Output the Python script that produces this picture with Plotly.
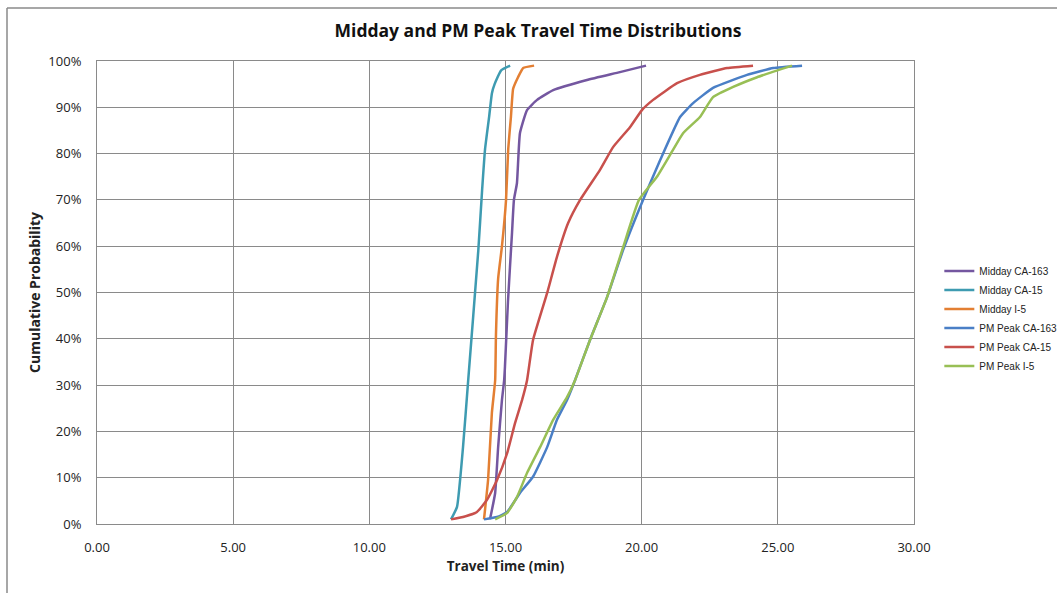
import plotly.graph_objects as go

# Cumulative probability (fraction) and travel time (min)
midday_ca163_t = [14.43, 14.62, 14.73, 14.87, 14.95, 14.98, 15.09, 15.24, 15.31, 15.42, 15.53, 15.79, 16.16, 16.75, 17.99, 19.2, 20.16]
midday_ca163_p = [0.01, 0.067, 0.166, 0.268, 0.31, 0.34, 0.48, 0.63, 0.70, 0.736, 0.844, 0.894, 0.916, 0.937, 0.959, 0.976, 0.99]

midday_ca15_t = [13.0, 13.22, 13.44, 13.63, 14.0, 14.14, 14.25, 14.4, 14.5, 14.6, 14.84, 15.17]
midday_ca15_p = [0.01, 0.037, 0.166, 0.31, 0.59, 0.72, 0.81, 0.88, 0.93, 0.95, 0.98, 0.99]

midday_i5_t = [14.21, 14.36, 14.5, 14.62, 14.65, 14.73, 14.87, 15.02, 15.1, 15.2, 15.28, 15.46, 15.65, 16.05]
midday_i5_p = [0.01, 0.095, 0.24, 0.31, 0.41, 0.53, 0.60, 0.70, 0.81, 0.88, 0.94, 0.965, 0.985, 0.99]

pm_ca163_t = [14.21, 14.69, 15.06, 15.53, 16.01, 16.53, 16.89, 17.26, 17.55, 18.1, 18.73, 19.32, 20.05, 20.68, 21.41, 21.89, 22.62, 23.87, 24.83, 25.89]
pm_ca163_p = [0.01, 0.015, 0.026, 0.067, 0.102, 0.166, 0.225, 0.268, 0.31, 0.397, 0.49, 0.592, 0.70, 0.786, 0.879, 0.909, 0.942, 0.97, 0.985, 0.99]

pm_ca15_t = [13.0, 13.44, 13.95, 14.32, 14.69, 15.06, 15.35, 15.61, 15.79, 16.01, 16.53, 16.89, 17.3, 17.74, 18.47, 18.95, 19.57, 20.01, 20.42, 21.3, 22.14, 23.14, 24.09]
pm_ca15_p = [0.01, 0.015, 0.026, 0.052, 0.095, 0.153, 0.218, 0.268, 0.31, 0.397, 0.499, 0.577, 0.65, 0.70, 0.765, 0.814, 0.857, 0.894, 0.916, 0.952, 0.97, 0.985, 0.99]

pm_i5_t = [14.62, 15.06, 15.42, 15.79, 16.27, 16.75, 17.26, 17.55, 18.1, 18.73, 19.32, 19.9, 20.56, 21.15, 21.52, 22.14, 22.62, 23.36, 24.24, 25.52]
pm_i5_p = [0.01, 0.024, 0.058, 0.11, 0.166, 0.225, 0.274, 0.31, 0.397, 0.49, 0.598, 0.70, 0.75, 0.808, 0.844, 0.879, 0.922, 0.944, 0.965, 0.99]

series = [
    ("Midday CA-163", midday_ca163_t, midday_ca163_p, "#7457A0"),
    ("Midday CA-15", midday_ca15_t, midday_ca15_p, "#3E9BB1"),
    ("Midday I-5", midday_i5_t, midday_i5_p, "#E37F33"),
    ("PM Peak CA-163", pm_ca163_t, pm_ca163_p, "#4A7FC6"),
    ("PM Peak CA-15", pm_ca15_t, pm_ca15_p, "#C8504C"),
    ("PM Peak I-5", pm_i5_t, pm_i5_p, "#98BF55"),
]

fig = go.Figure()
for name, t, p, c in series:
    fig.add_trace(go.Scatter(x=t, y=p, mode="lines", name=name,
                             line=dict(color=c, width=2.5, shape="spline", smoothing=0.4)))

font_family = "Open Sans, Liberation Sans, sans-serif"
fig.update_layout(
    width=1057, height=593,
    margin=dict(l=97, r=143, t=61, b=69, autoexpand=False),
    paper_bgcolor="white", plot_bgcolor="white",
    font=dict(family=font_family, size=13, color="#222"),
    title=dict(text="<b>Midday and PM Peak Travel Time Distributions</b>",
               xref="container", x=0.509, xanchor="center",
               yref="container", y=1 - 31 / 593, yanchor="middle",
               font=dict(size=17.5, color="#111")),
    xaxis=dict(range=[0, 30], dtick=5, tickformat=".2f", showgrid=True, automargin=False,
               gridcolor="#8a8a8a", gridwidth=1, showline=True, linecolor="#8a8a8a",
               mirror=True, zeroline=False, ticks="", ticklabelstandoff=11,
               title=dict(text="<b>Travel Time (min)</b>", font=dict(size=13.5), standoff=6)),
    yaxis=dict(range=[0, 1], dtick=0.1, tickformat=".0%", showgrid=True, automargin=False,
               gridcolor="#8a8a8a", gridwidth=1, showline=True, linecolor="#8a8a8a",
               mirror=True, zeroline=False, ticks="", ticklabelstandoff=12,
               title=dict(text="<b>Cumulative Probability</b>", font=dict(size=14), standoff=4)),
    legend=dict(x=1.031, xanchor="left", y=0.578, yanchor="top",
                font=dict(family="Liberation Sans, Arial, sans-serif", size=10, color="#222"),
                tracegroupgap=0, bgcolor="rgba(0,0,0,0)"),
    showlegend=True,
)

# outer chart border (top and left)
fig.add_shape(type="line", xref="paper", yref="paper",
              x0=(7 - 97) / 817, x1=(1057 - 97) / 817, y0=(524 - 8) / 463, y1=(524 - 8) / 463,
              line=dict(color="#8a8a8a", width=1.5))
fig.add_shape(type="line", xref="paper", yref="paper",
              x0=(7 - 97) / 817, x1=(7 - 97) / 817, y0=(524 - 8) / 463, y1=(524 - 600) / 463,
              line=dict(color="#8a8a8a", width=1.5))

fig.write_html("out.html", config={"displayModeBar": False},
               post_script="document.body.style.margin='0';document.body.style.overflow='hidden';")
